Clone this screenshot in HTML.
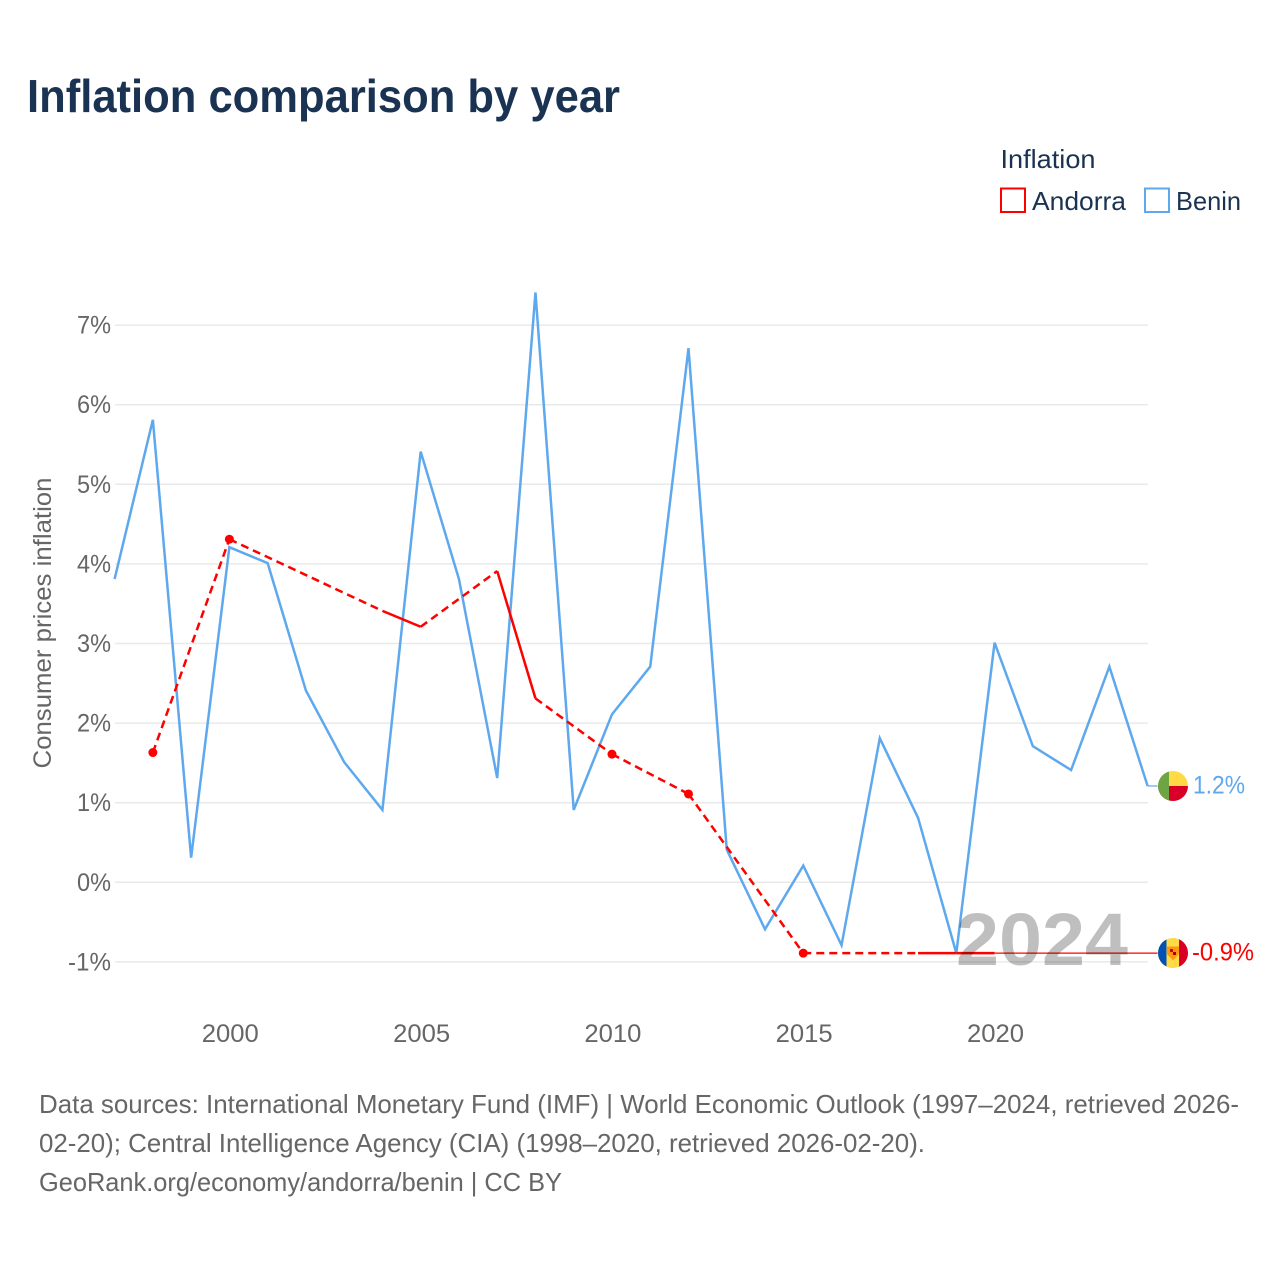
<!DOCTYPE html>
<html lang="en">
<head>
<meta charset="utf-8">
<title>Inflation comparison by year</title>
<style>
html,body{margin:0;padding:0;background:#fff;width:1280px;height:1280px;overflow:hidden}
svg{display:block}
text{font-family:"Liberation Sans",sans-serif}
</style>
</head>
<body>
<svg id="chart" width="1280" height="1280" viewBox="0 0 1280 1280" xmlns="http://www.w3.org/2000/svg">
  <rect width="1280" height="1280" fill="#fff"/>
  <text x="27" y="112" font-size="46" font-weight="700" fill="#1a3352" textLength="593" lengthAdjust="spacingAndGlyphs">Inflation comparison by year</text>

  <text x="1000.500" y="168" font-size="26" fill="#1a3352" textLength="95" lengthAdjust="spacingAndGlyphs">Inflation</text>
  <g>
    <rect x="1001" y="188.500" width="24" height="23.500" fill="none" stroke="#ff0000" stroke-width="2"/>
    <text x="1032" y="210" font-size="26" fill="#1a3352" textLength="94" lengthAdjust="spacingAndGlyphs">Andorra</text>
  </g>
  <g>
    <rect x="1145" y="188.500" width="24" height="23.500" fill="none" stroke="#5ea8ee" stroke-width="2"/>
    <text x="1176" y="210" font-size="26" fill="#1a3352" textLength="65" lengthAdjust="spacingAndGlyphs">Benin</text>
  </g>

  <g id="grid"></g>
  <g id="yTicks"></g>
  <g id="xTicks"></g>
  <text transform="translate(51,623) rotate(-90)" text-anchor="middle" font-size="25" fill="#666" textLength="291" lengthAdjust="spacingAndGlyphs">Consumer prices inflation</text>

  <g id="series" transform="translate(-0.4,-0.8)"></g>

  <text x="1042" y="965" text-anchor="middle" font-size="74" font-weight="700" fill="#000" fill-opacity="0.25" textLength="172" lengthAdjust="spacingAndGlyphs">2024</text>

  <g>
    <clipPath id="clipBenin"><circle cx="1173" cy="786" r="15"/></clipPath>
    <g clip-path="url(#clipBenin)">
      <rect x="1158" y="771" width="30" height="15" fill="#ffda44"/>
      <rect x="1158" y="786" width="30" height="15" fill="#d80027"/>
      <rect x="1158" y="771" width="11" height="30" fill="#6da544"/>
    </g>
  </g>
  <g>
    <clipPath id="clipAndorra"><circle cx="1173" cy="953" r="15"/></clipPath>
    <g clip-path="url(#clipAndorra)">
      <rect x="1158" y="938" width="30" height="30" fill="#ffda44"/>
      <rect x="1158" y="938" width="8.500" height="30" fill="#0052b4"/>
      <rect x="1179" y="938" width="9" height="30" fill="#d80027"/>
      <path d="M1167 946.500h12v7.500l-6 6.500l-6-6.500z" fill="#ff9811"/>
      <rect x="1170" y="949" width="3" height="3" fill="#d80027"/>
      <rect x="1173" y="952" width="3" height="3" fill="#a2001d"/>
    </g>
  </g>
  <g id="endLabels"></g>

  <g font-size="26" fill="#666">
    <text x="39" y="1113" textLength="1200" lengthAdjust="spacingAndGlyphs">Data sources: International Monetary Fund (IMF) | World Economic Outlook (1997–2024, retrieved 2026-</text>
    <text x="39" y="1152" textLength="886" lengthAdjust="spacingAndGlyphs">02-20); Central Intelligence Agency (CIA) (1998–2020, retrieved 2026-02-20).</text>
    <text x="39" y="1191" textLength="523" lengthAdjust="spacingAndGlyphs">GeoRank.org/economy/andorra/benin | CC BY</text>
  </g>
</svg>
<script>
const years = [1997,1998,1999,2000,2001,2002,2003,2004,2005,2006,2007,2008,2009,2010,2011,2012,2013,2014,2015,2016,2017,2018,2019,2020,2021,2022,2023,2024];
const beninValues = [3.8,5.8,0.3,4.2,4.0,2.4,1.5,0.9,5.4,3.8,1.3,7.4,0.9,2.1,2.7,6.7,0.4,-0.6,0.2,-0.8,1.8,0.8,-0.9,3.0,1.7,1.4,2.7,1.2];
const andorraValues = [null,1.62,null,4.3,null,null,null,3.4,3.2,null,3.9,2.3,null,1.6,null,1.1,null,null,-0.9,null,null,-0.9,-0.9,-0.9,null,null,null,null];
const yTickValues = [-1,0,1,2,3,4,5,6,7];
const xTickValues = [2000,2005,2010,2015,2020];

const NS = 'http://www.w3.org/2000/svg';
const X0 = 115, XSTEP = 38.26, Y0 = 882.3, YSTEP = 79.6, LABEL_X = 1158;
const xScale = function (year) { return X0 + (year - years[0]) * XSTEP; };
const yScale = function (value) { return Y0 - value * YSTEP; };

function make(tag, parent, attrs) {
  const el = document.createElementNS(NS, tag);
  Object.keys(attrs).forEach(function (k) { el.setAttribute(k, attrs[k]); });
  parent.appendChild(el);
  return el;
}

const gridLayer = document.getElementById('grid');
const yTickLayer = document.getElementById('yTicks');
const xTickLayer = document.getElementById('xTicks');
const seriesLayer = document.getElementById('series');
const labelLayer = document.getElementById('endLabels');

yTickValues.forEach(function (v) {
  const line = make('line', gridLayer, {x1: X0, x2: 1148, y1: yScale(v), y2: yScale(v), stroke: '#e9e9e9', 'stroke-width': 1.5});
  
  
  const label = make('text', yTickLayer, {x: 111, y: yScale(v) + 8.5, 'text-anchor': 'end', 'font-size': 25, fill: '#666', textLength: v < 0 ? 43 : 34, lengthAdjust: 'spacingAndGlyphs'});
  
  
  label.textContent = v + '%';
});

xTickValues.forEach(function (year) {
  const label = make('text', xTickLayer, {x: xScale(year) + 0.5, y: 1042, 'text-anchor': 'middle', 'font-size': 25, fill: '#666', textLength: 57, lengthAdjust: 'spacingAndGlyphs'});
  
  
  label.textContent = year;
});

function lastIndex(values) {
  let last = values.length - 1;
  while (values[last] === null) last--;
  return last;
}

function connector(values, color, name) {
  const i = lastIndex(values);
  const line = make('line', seriesLayer, {x1: xScale(years[i]), x2: LABEL_X, y1: yScale(values[i]), y2: yScale(values[i]), stroke: color, 'stroke-width': 1.2});
  
  
}

function endLabel(values, color, x, width, name) {
  const i = lastIndex(values);
  const label = make('text', labelLayer, {x: x, y: yScale(values[i]) + 6.5, 'font-size': 25, fill: color, textLength: width, lengthAdjust: 'spacingAndGlyphs'});
  
  
  label.textContent = values[i].toFixed(1) + '%';
}

// Benin line: continuous data
connector(beninValues, '#5ea8ee', 'benin-connector');
const beninLine = make('polyline', seriesLayer, {
  points: beninValues.map(function (v, i) { return xScale(years[i]) + ',' + yScale(v); }).join(' '),
  fill: 'none', stroke: '#5ea8ee', 'stroke-width': 2.5, 'stroke-linejoin': 'miter'
});



// Andorra line: solid between consecutive years, dashed across gaps, dots on isolated points
connector(andorraValues, '#ff0000', 'andorra-connector');
const present = [];
andorraValues.forEach(function (v, i) { if (v !== null) present.push(i); });
present.forEach(function (i, n) {
  if (n > 0) {
    const p = present[n - 1];
    const seg = make('line', seriesLayer, {
      x1: xScale(years[p]), y1: yScale(andorraValues[p]),
      x2: xScale(years[i]), y2: yScale(andorraValues[i]),
      stroke: '#ff0000', 'stroke-width': 2.5
    });
    
    
    if (i - p > 1) seg.setAttribute('stroke-dasharray', '8 5');
  }
  const prevNull = i === 0 || andorraValues[i - 1] === null;
  const nextNull = i === andorraValues.length - 1 || andorraValues[i + 1] === null;
  if (prevNull && nextNull) {
    const dot = make('circle', seriesLayer, {cx: xScale(years[i]), cy: yScale(andorraValues[i]), r: 4.5, fill: '#ff0000'});
    
    
  }
});

endLabel(beninValues, '#5ea8ee', 1193, 52, 'benin-end-label');
endLabel(andorraValues, '#ff0000', 1192, 62, 'andorra-end-label');
</script>
</body>
</html>
